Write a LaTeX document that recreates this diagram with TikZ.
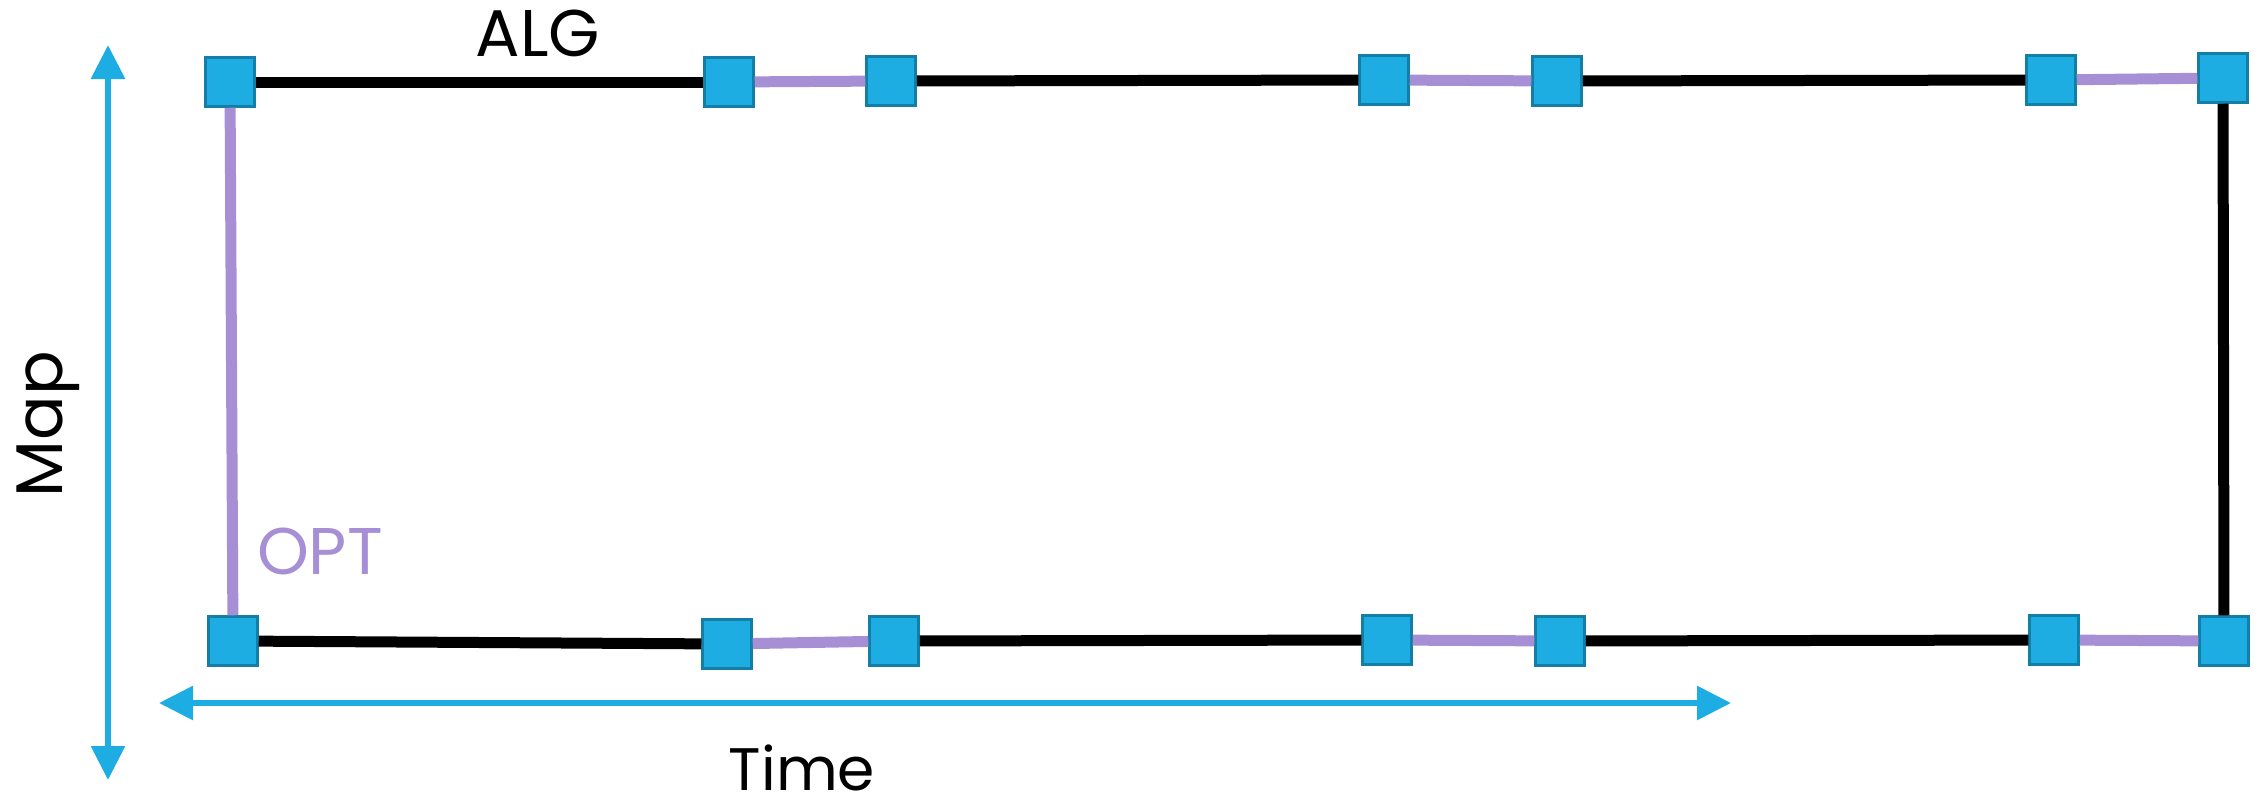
\documentclass[tikz,border=0pt]{standalone}
\usepackage{fontspec}
\setmainfont{Poppins}
\usetikzlibrary{arrows.meta}
\definecolor{sqfill}{HTML}{1DADE2}
\definecolor{sqdraw}{HTML}{137FA6}
\definecolor{optc}{HTML}{A68FD4}
\definecolor{axisc}{HTML}{1DADE2}
\tikzset{
  sq/.style={rectangle, minimum size=49pt, inner sep=0pt, fill=sqfill, draw=sqdraw, line width=2.5pt},
  algline/.style={black, line width=11pt},
  optline/.style={optc, line width=11pt},
  axis/.style={axisc, line width=6pt, {Triangle[length=34pt,width=33pt]}-{Triangle[length=34pt,width=33pt]}},
  lbl/.style={font=\fontsize{66}{70}\selectfont, inner sep=0pt, anchor=base}
}
\begin{document}
\begin{tikzpicture}[x=1pt, y=-1pt]
\useasboundingbox (0,0) rectangle (2265,803);
% top row
\node[sq] (t1) at (230,82) {};
\node[sq] (t2) at (729,82) {};
\node[sq] (t3) at (891,81) {};
\node[sq] (t4) at (1384,80) {};
\node[sq] (t5) at (1557,81) {};
\node[sq] (t6) at (2051,80) {};
\node[sq] (t7) at (2223,78) {};
% bottom row
\node[sq] (b1) at (233,641) {};
\node[sq] (b2) at (727,644) {};
\node[sq] (b3) at (894,641) {};
\node[sq] (b4) at (1387,640) {};
\node[sq] (b5) at (1560,641) {};
\node[sq] (b6) at (2054,640) {};
\node[sq] (b7) at (2224,641) {};
% connectors
\draw[algline] (t1) -- (t2);
\draw[optline] (t2) -- (t3);
\draw[algline] (t3) -- (t4);
\draw[optline] (t4) -- (t5);
\draw[algline] (t5) -- (t6);
\draw[optline] (t6) -- (t7);
\draw[algline] (b1) -- (b2);
\draw[optline] (b2) -- (b3);
\draw[algline] (b3) -- (b4);
\draw[optline] (b4) -- (b5);
\draw[algline] (b5) -- (b6);
\draw[optline] (b6) -- (b7);
\draw[optline] (t1) -- (b1);
\draw[algline] (t7) -- (b7);
% axes
\coordinate (vt) at (108,45);
\coordinate (vb) at (108,780);
\coordinate (hl) at (159,703);
\coordinate (hr) at (1731,703);
\draw[axis] (vt) -- (vb);
\draw[axis] (hl) -- (hr);
% labels
\node[lbl] (alg) at (538,56) {ALG};
\node[lbl, text=optc] (opt) at (320,574) {OPT};
\node[lbl, rotate=90] (map) at (62,424) {Map};
\node[lbl, font=\fontsize{60}{64}\selectfont] (time) at (802,790) {Time};
\end{tikzpicture}
\end{document}
